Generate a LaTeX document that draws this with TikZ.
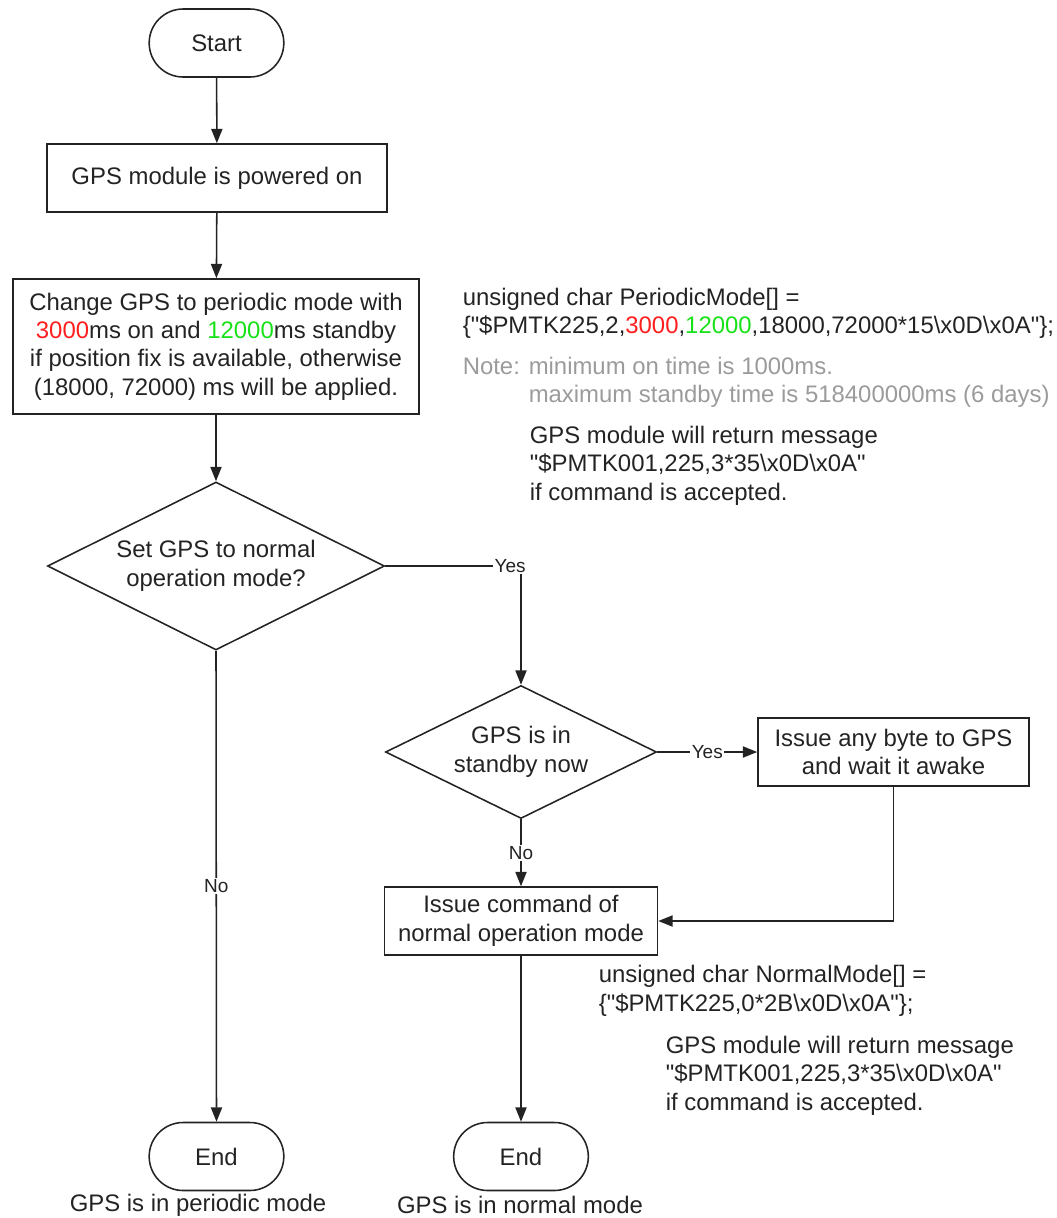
\documentclass[tikz,border=0pt]{standalone}
\usepackage{fontspec}
\setmainfont{Liberation Sans}
\usetikzlibrary{shapes.geometric,shapes.misc,arrows.meta}
\definecolor{ink}{RGB}{35,35,35}
\definecolor{onred}{RGB}{255,30,30}
\definecolor{sbgreen}{RGB}{25,225,25}
\definecolor{notegray}{RGB}{155,155,155}
\newcommand{\qt}{\textquotedbl}
\newcommand{\bs}{\textbackslash}
\tikzset{
  term/.style={draw, rounded rectangle, minimum width=3.6cm, minimum height=1.7cm},
  procbox/.style={draw, rectangle, align=center, minimum height=1.7cm},
  decision/.style={draw, diamond, align=center, inner sep=0pt, aspect=2},
  lbl/.style={fill=white, inner sep=1pt, font=\fontsize{13.5}{16}\selectfont},
  flow/.style={-{Triangle[length=0.36cm,width=0.28cm]}},
  codetext/.style={anchor=west, align=left, inner sep=0pt}
}
\begin{document}
\begin{tikzpicture}[x=0.025cm, y=-0.025cm, line width=1.1pt, draw=ink, text=ink,
  font=\fontsize{17}{20.2}\selectfont]
\useasboundingbox (0,0) rectangle (1057,1218);
% main column
\node [term] (start) at (216.5,43) {Start};
\node [procbox, minimum width=8.5cm] (power) at (217,178) {GPS module is powered on};
\node [procbox, minimum width=10.15cm, minimum height=3.375cm] (periodic) at (216,346.5)
  {Change GPS to periodic mode with\\
   \textcolor{onred}{3000}ms on and \textcolor{sbgreen}{12000}ms standby\\
   if position fix is available, otherwise\\
   (18000, 72000) ms will be applied.};
\node [decision, minimum width=8.425cm, minimum height=4.2cm] (askNormal) at (216,566)
  {Set GPS to normal\\operation mode?};
% normal mode branch
\node [decision, minimum width=6.775cm, minimum height=3.325cm] (standby) at (521,752)
  {GPS is in\\standby now};
\node [procbox, minimum width=6.775cm] (wake) at (893.5,752)
  {Issue any byte to GPS\\and wait it awake};
\node [procbox, minimum width=6.825cm] (normalCmd) at (521,921)
  {Issue command of\\normal operation mode};
\node [term] (endPeriodic) at (216.5,1156.5) {End};
\node [term] (endNormal) at (521,1156.5) {End};
\node [inner sep=1pt] (periodicState) at (198,1205) {GPS is in periodic mode};
\node [inner sep=1pt] (normalState) at (520,1205) {GPS is in normal mode};
% notes
\node [codetext] (periodicCode) at (462,313.5)
  {unsigned char PeriodicMode[] =\\
   \{\qt\$PMTK225,2,\textcolor{onred}{3000},\textcolor{sbgreen}{12000},18000,72000*15\bs x0D\bs x0A\qt\};};
\node [codetext, text=notegray] (periodicNote) at (462,382.5)
  {Note: minimum on time is 1000ms.\\
   \phantom{Note: }maximum standby time is 518400000ms (6 days)};
\node [codetext] (periodicAck) at (529,465.5)
  {GPS module will return message\\
   \qt\$PMTK001,225,3*35\bs x0D\bs x0A\qt\\
   if command is accepted.};
\node [codetext] (normalCode) at (598,991)
  {unsigned char NormalMode[] =\\
   \{\qt\$PMTK225,0*2B\bs x0D\bs x0A\qt\};};
\node [codetext] (normalAck) at (665,1075.5)
  {GPS module will return message\\
   \qt\$PMTK001,225,3*35\bs x0D\bs x0A\qt\\
   if command is accepted.};
% connectors
\draw [flow] (start) -- (power);
\draw [flow] (power) -- (periodic);
\draw [flow] (periodic) -- (askNormal);
\draw [flow] (askNormal.east) -| node [lbl, xshift=-0.27cm] {Yes} (standby.north);
\draw [flow] (standby.east) -- node [lbl] {Yes} (wake.west);
\draw [flow] (standby.south) -- node [lbl] {No} (normalCmd.north);
\draw [flow] (wake.south) |- (normalCmd.east);
\draw [flow] (askNormal.south) -- node [lbl] {No} (endPeriodic.north);
\draw [flow] (normalCmd.south) -- (endNormal.north);
\end{tikzpicture}
\end{document}
